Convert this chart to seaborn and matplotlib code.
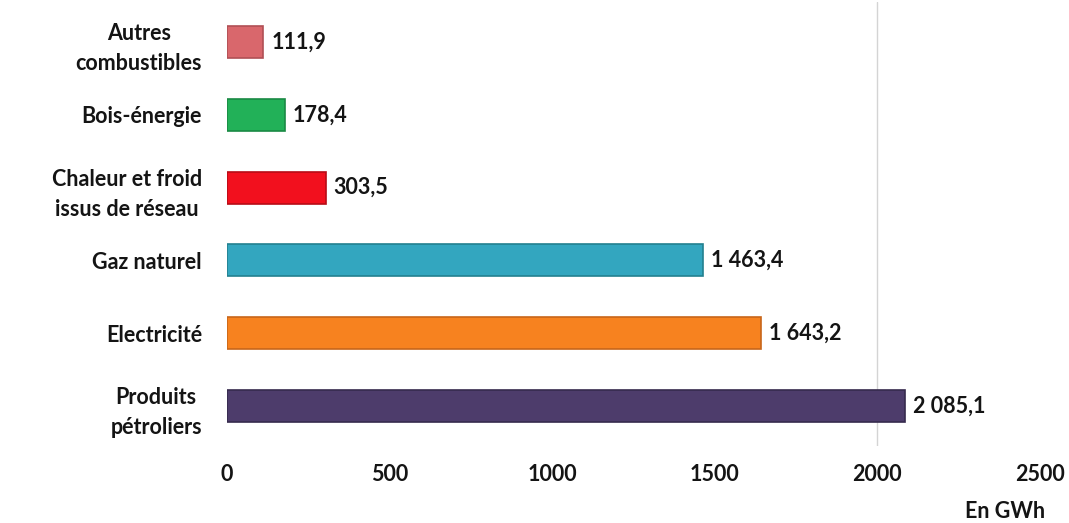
import matplotlib
matplotlib.use("Agg")
import matplotlib.pyplot as plt
import seaborn as sns
import pandas as pd

categories = ["Autres\ncombustibles", "Bois-énergie", "Chaleur et froid\nissus de réseau",
              "Gaz naturel", "Electricité", "Produits\npétroliers"]
values = [111.9, 178.4, 303.5, 1463.4, 1643.2, 2085.1]
colors = ["#D9676C", "#22B158", "#F2101E", "#33A6BF", "#F7821F", "#4D3C6B"]
edge_colors = ["#B04F55", "#1A8A44", "#B80C16", "#23808F", "#C8661A", "#362A4D"]
xticks = [0, 500, 1000, 1500, 2000, 2500]

sns.set_style("white")
plt.rcParams["font.family"] = ["Lato", "DejaVu Sans"]

FS = 15.5
TXT = "#141414"

df = pd.DataFrame({"cat": categories, "val": values})

fig = plt.figure(figsize=(10.69, 5.23), dpi=100)
ax = fig.add_axes([227 / 1069, 77 / 523, (1039.5 - 227) / 1069, 444 / 523])

sns.barplot(data=df, y="cat", x="val", hue="cat", palette=colors, orient="h",
            width=0.44, legend=False, ax=ax, saturation=1)

for patch, ec in zip(ax.patches, edge_colors):
    patch.set_edgecolor(ec)
    patch.set_linewidth(1.2)


def fr(v):
    return f"{v:,.1f}".replace(",", " ").replace(".", ",")


for i, v in enumerate(values):
    ax.text(v + 25, i, fr(v), va="center", ha="left", fontsize=FS,
            fontweight="bold", color=TXT)

ax.set_xlim(0, 2500)
ax.set_ylim(5.55, -0.55)
ax.set_xticks(xticks)
ax.set_xticklabels([str(t) for t in xticks], fontsize=FS, fontweight="bold", color=TXT)
ax.tick_params(axis="x", pad=13, length=0)
ax.tick_params(axis="y", pad=18, length=0)
for lab in ax.get_yticklabels():
    lab.set_fontsize(FS)
    lab.set_fontweight("bold")
    lab.set_color(TXT)
    lab.set_multialignment("center")
    lab.set_linespacing(1.55)

ax.axvline(2000, color="#d4d4d4", lw=1, zorder=0)
ax.set_xlabel("")
ax.set_ylabel("")
for s in ax.spines.values():
    s.set_visible(False)

fig.text(1005 / 1069, 1 - 512 / 523, "En GWh", ha="center", va="center",
         fontsize=FS, fontweight="bold", color=TXT)

fig.savefig("out.png", dpi=100, facecolor="white")
